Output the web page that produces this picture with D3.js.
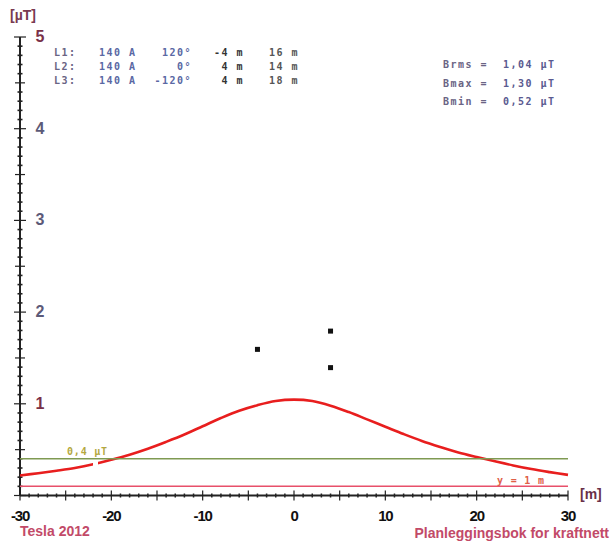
<!DOCTYPE html>
<html>
<head>
<meta charset="utf-8">
<script src="https://cdn.jsdelivr.net/npm/d3@7"></script>
<style>
  html, body { margin: 0; padding: 0; background: #fff; }
  svg { display: block; }
  .mono { font-family: "DejaVu Sans Mono", "Liberation Mono", monospace; font-weight: bold; }
  .sans { font-family: "Liberation Sans", Arial, sans-serif; font-weight: bold; }
</style>
</head>
<body>
<svg id="chart" width="611" height="544"></svg>
<script>
// Lateral distance from the line centre (m) and magnetic flux density (µT) at 1 m above ground
const distance = [-30, -28, -26, -24, -22, -20, -18, -16, -14, -12, -10, -8, -6, -4, -2, 0,
                  2, 4, 6, 8, 10, 12, 14, 16, 18, 20, 22, 24, 26, 28, 30];
const fluxDensity = [0.218, 0.243, 0.27, 0.30, 0.34, 0.39, 0.445, 0.51, 0.585, 0.665, 0.755, 0.845, 0.925, 0.985, 1.03, 1.045,
                     1.03, 0.98, 0.91, 0.83, 0.75, 0.67, 0.595, 0.53, 0.47, 0.42, 0.373, 0.328, 0.288, 0.255, 0.225];

// Phase conductors: name, current (A), phase angle, x position (m), height (m)
const phases = ["L1:", "L2:", "L3:"];
const currents = [140, 140, 140];
const angles = [120, 0, -120];
const condX = [-4, 4, 4];
const condH = [16, 14, 18];

// Summary values
const summaryNames = ["Brms", "Bmax", "Bmin"];
const summaryValues = ["1,04", "1,30", "0,52"];

const limitValue = 0.4;     // µT reference line
const measureHeight = 1;    // m above ground

const xTicks = [-30, -20, -10, 0, 10, 20, 30];
const yTicks = [1, 2, 3, 4, 5];

const svg = d3.select("#chart");

const x = d3.scaleLinear().domain([-30, 30]).range([20, 568]);
const y = d3.scaleLinear().domain([0, 5]).range([495.5, 37]);
// Heights in metres use the same pixel-per-metre scale as the horizontal axis
const pxPerM = x(1) - x(0);
const h = d3.scaleLinear().domain([0, 1]).range([y(0), y(0) - pxPerM]);

// ---- Y axis with minor ticks ----
const gy = svg.append("g").attr("stroke", "#222").attr("stroke-width", 1);
gy.append("line").attr("x1", x(-30)).attr("x2", x(-30)).attr("y1", y(5)).attr("y2", y(0)).attr("stroke-width", 2);
d3.range(0, 51).forEach(i => {
  const v = i / 10;
  const len = (i % 10 === 0) ? 6 : (i % 5 === 0 ? 5 : 2.5);
  gy.append("line")
    .attr("x1", x(-30) - len).attr("x2", x(-30) + len)
    .attr("y1", y(v)).attr("y2", y(v))
    .attr("stroke-width", i % 5 === 0 ? 1.2 : 1.6);
});

// ---- X axis with minor ticks ----
const gx = svg.append("g").attr("stroke", "#222");
gx.append("line").attr("x1", x(-30)).attr("x2", x(30)).attr("y1", y(0)).attr("y2", y(0)).attr("stroke-width", 2);
d3.range(-30, 31).forEach(v => {
  const len = (v % 5 === 0) ? 5 : 2;
  gx.append("line")
    .attr("x1", x(v)).attr("x2", x(v))
    .attr("y1", y(0) - len).attr("y2", y(0) + len)
    .attr("stroke-width", v % 5 === 0 ? 1.2 : 1.5);
});

// ---- Tick labels ----
svg.append("g").selectAll("text").data(xTicks).join("text")
  .attr("class", "sans")
  .attr("x", d => x(d)).attr("y", 521)
  .attr("text-anchor", "middle")
  .attr("font-size", 15).attr("letter-spacing", -1.2)
  .attr("fill", "#111")
  .text(d => d);

svg.append("g").selectAll("text").data(yTicks).join("text")
  .attr("class", "sans")
  .attr("x", 40).attr("y", d => y(d) + 5)
  .attr("text-anchor", "middle")
  .attr("font-size", 16)
  .attr("fill", d => (d === 5 || d === 1) ? "#7a3048" : "#5c5a78")
  .text(d => d);

// Axis unit labels
svg.append("text").attr("class", "sans").attr("x", 10).attr("y", 20)
  .attr("font-size", 14).attr("fill", "#7a3a50").text("[µT]");
svg.append("text").attr("class", "sans").attr("x", 580).attr("y", 499)
  .attr("font-size", 14).attr("fill", "#6a3048").text("[m]");

// ---- Reference lines ----
svg.append("line")
  .attr("x1", x(-30)).attr("x2", x(30))
  .attr("y1", h(measureHeight)).attr("y2", h(measureHeight))
  .attr("stroke", "#e8506a").attr("stroke-width", 1.5);

// ---- Flux density curve ----
const line = d3.line()
  .x((d, i) => x(distance[i]))
  .y(d => y(d))
  .curve(d3.curveCatmullRom.alpha(0.5));
svg.append("path")
  .datum(fluxDensity)
  .attr("d", line)
  .attr("fill", "none")
  .attr("stroke", "#e81e1e")
  .attr("stroke-width", 2.6);

// Label box for the limit line (masks a piece of the curve)
svg.append("rect").attr("x", 93).attr("y", 446).attr("width", 5).attr("height", 22).attr("fill", "#fff");

svg.append("line")
  .attr("x1", x(-30)).attr("x2", x(30))
  .attr("y1", y(limitValue)).attr("y2", y(limitValue))
  .attr("stroke", "#7f9a52").attr("stroke-width", 1.5);

svg.append("text").attr("class", "mono")
  .attr("x", 67).attr("y", 455)
  .attr("font-size", 10).attr("letter-spacing", 0.8).attr("fill", "#b4a840")
  .text("0,4 µT");

svg.append("text").attr("class", "mono")
  .attr("x", 497).attr("y", 484)
  .attr("font-size", 10).attr("letter-spacing", 0.8).attr("fill", "#e06048")
  .text("y = 1 m");

// ---- Conductors ----
svg.append("g").selectAll("rect").data(condX).join("rect")
  .attr("x", (d, i) => x(d) - 2.5)
  .attr("y", (d, i) => h(condH[i]) - 2.5)
  .attr("width", 5).attr("height", 5)
  .attr("fill", "#111");

// ---- Conductor table ----
const rowY = [53, 67, 81];
const tbl = svg.append("g").attr("class", "mono").attr("font-size", 10).attr("letter-spacing", 1.5);
phases.forEach((p, i) => {
  tbl.append("text").attr("x", 54).attr("y", rowY[i] + 3).attr("fill", "#6a6484").text(p);
  tbl.append("text").attr("x", 99).attr("y", rowY[i] + 3).attr("fill", "#5a68a4").text(currents[i] + " A");
  tbl.append("text").attr("x", 192).attr("y", rowY[i] + 3).attr("text-anchor", "end").attr("fill", "#5a68a4").text(angles[i] + "°");
  tbl.append("text").attr("x", 244).attr("y", rowY[i] + 3).attr("text-anchor", "end").attr("fill", "#333").text(condX[i] + " m");
  tbl.append("text").attr("x", 299).attr("y", rowY[i] + 3).attr("text-anchor", "end").attr("fill", "#555").text(condH[i] + " m");
});

// ---- Summary box ----
const sumY = [68, 87, 105];
const sum = svg.append("g").attr("class", "mono").attr("font-size", 10).attr("letter-spacing", 1.5);
summaryNames.forEach((n, i) => {
  sum.append("text").attr("x", 443).attr("y", sumY[i]).attr("fill", "#6a6484").text(n + " =");
  sum.append("text").attr("x", 503).attr("y", sumY[i]).attr("fill", "#5a5a90").text(summaryValues[i] + " µT");
});

// ---- Footer ----
svg.append("text").attr("class", "sans").attr("x", 20).attr("y", 536)
  .attr("font-size", 14).attr("fill", "#c24a68").text("Tesla 2012");
svg.append("text").attr("class", "sans").attr("x", 609).attr("y", 538).attr("text-anchor", "end")
  .attr("font-size", 14).attr("fill", "#c24a68").text("Planleggingsbok for kraftnett");
</script>
</body>
</html>
